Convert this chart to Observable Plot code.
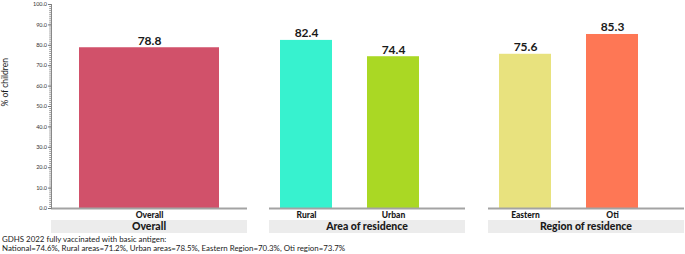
<!DOCTYPE html>
<html>
<head>
<meta charset="utf-8">
<script src="https://cdn.jsdelivr.net/npm/d3@7"></script>
<script src="https://cdn.jsdelivr.net/npm/@observablehq/plot@0.6"></script>
<style>
  html, body { margin: 0; padding: 0; background: #fff; }
  #chart { position: relative; width: 685px; height: 254px; font-family: "Lato", sans-serif; color: #1a1a1a; overflow: hidden; }
  .panel { position: absolute; top: 0; }
  .header { position: absolute; top: 220px; height: 13px; background: #ececec; font-weight: 900; font-size: 10.5px; line-height: 13px; text-align: center; color: #1a1a1a; }
  .caption { position: absolute; left: 2px; top: 234.5px; font-size: 7.9px; line-height: 9.6px; color: #1a1a1a; white-space: nowrap; }
  svg g[aria-label="x-axis tick label"] text { font-weight: 900; }
</style>
</head>
<body>
<div id="chart"></div>
<script>
const groups = ["Overall", "Area of residence", "Region of residence"];
const categories = ["Overall", "Rural", "Urban", "Eastern", "Oti"];
const categoryGroup = ["Overall", "Area of residence", "Area of residence", "Region of residence", "Region of residence"];
const values = [78.8, 82.4, 74.4, 75.6, 85.3];
const colors = ["#d1516a", "#37f2cf", "#aad824", "#e8e27e", "#fe7755"];
const yMajorTicks = [0, 10, 20, 30, 40, 50, 60, 70, 80, 90, 100];
const yLabel = "% of children";
const captionLines = [
  "GDHS 2022 fully vaccinated with basic antigen:",
  "National=74.6%, Rural areas=71.2%, Urban areas=78.5%, Eastern Region=70.3%, Oti region=73.7%"
];

const rows = categories.map((c, i) => ({category: c, group: categoryGroup[i], value: values[i], color: colors[i]}));

const chart = document.getElementById("chart");
const panelLeft = [51, 269, 488];
const panelWidth = 196;

groups.forEach((g, gi) => {
  const data = rows.filter(d => d.group === g);
  const isFirst = gi === 0;
  const marks = [
    Plot.barY(data, {x: "category", y: "value", fill: "color"}),
    Plot.ruleY([0], {stroke: "#a3a3a3", strokeWidth: 2}),
    Plot.text(data, {x: "category", y: "value", text: d => d.value.toFixed(1), lineAnchor: "bottom", dy: -3, fontSize: 12, fontWeight: "bold", fill: "#1a1a1a"}),
    Plot.axisX({tickSize: 0, tickPadding: 3, fontSize: 8.5, fontWeight: 900, label: null, fill: "#1a1a1a"})
  ];
  if (isFirst) {
    marks.push(
      Plot.axisY({ticks: d3.range(0, 101, 1), tickSize: 1.8, tickFormat: () => "", label: null, stroke: "#999"}),
      Plot.axisY({ticks: yMajorTicks, tickSize: 3, tickPadding: 1.5, tickFormat: d => d.toFixed(1), fontSize: 5.5, label: null, stroke: "#777", fill: "#333"}),
      Plot.frame({anchor: "left", stroke: "#888"}),
      Plot.text([yLabel], {frameAnchor: "left", rotate: -90, dx: -46, fontSize: 8.5, fill: "#1a1a1a"})
    );
  }
  const plot = Plot.plot({
    width: isFirst ? panelLeft[0] + panelWidth : panelWidth,
    height: 220,
    marginLeft: isFirst ? panelLeft[0] : 0,
    marginRight: 0,
    marginTop: 4,
    marginBottom: 12,
    style: {fontFamily: "Lato, sans-serif", background: "transparent", overflow: "visible"},
    x: isFirst
      ? {domain: data.map(d => d.category), paddingInner: 0, paddingOuter: 0.2}
      : {domain: data.map(d => d.category), paddingInner: 0.4, paddingOuter: 0.125, insetRight: 34},
    y: {domain: [0, 100], axis: null},
    color: {type: "identity"},
    marks
  });
  const wrap = document.createElement("div");
  wrap.className = "panel";
  wrap.style.left = (isFirst ? 0 : panelLeft[gi]) + "px";
  wrap.appendChild(plot);
  chart.appendChild(wrap);

  const h = document.createElement("div");
  h.className = "header";
  h.style.left = panelLeft[gi] + "px";
  h.style.width = panelWidth + "px";
  h.textContent = g;
  chart.appendChild(h);
});

const cap = document.createElement("div");
cap.className = "caption";
captionLines.forEach(t => {
  const line = document.createElement("div");
  line.textContent = t;
  cap.appendChild(line);
});
chart.appendChild(cap);
</script>
</body>
</html>
